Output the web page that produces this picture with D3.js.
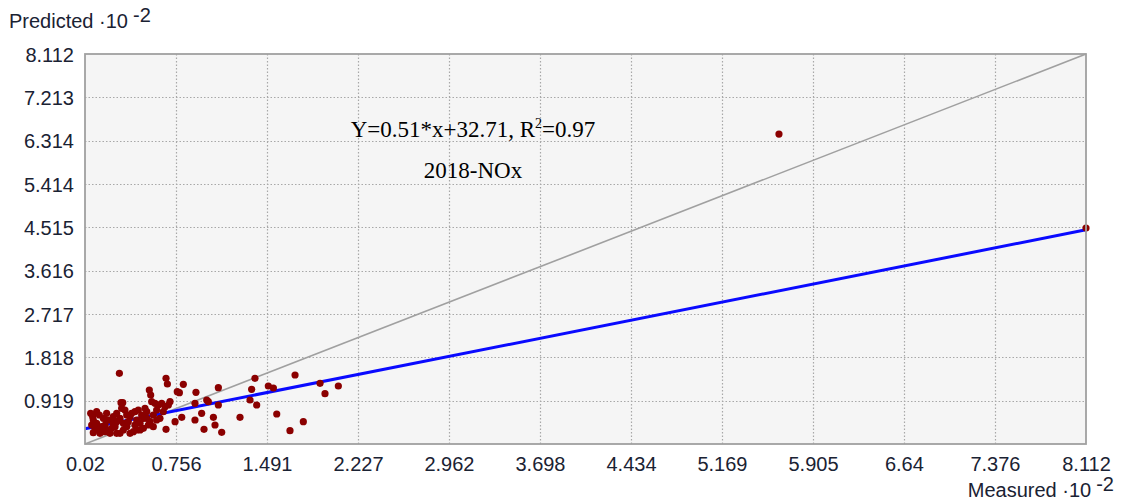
<!DOCTYPE html>
<html>
<head>
<meta charset="utf-8">
<script src="https://cdn.jsdelivr.net/npm/d3@7/dist/d3.min.js"></script>
<style>
  html, body { margin: 0; padding: 0; background: #ffffff; }
  svg { display: block; }
</style>
</head>
<body>
<svg id="chart" width="1121" height="502"></svg>
<script>
// Measured vs predicted NOx, 2018 (values shown in units of 10^-2)
const xTicks = [0.02, 0.756, 1.491, 2.227, 2.962, 3.698, 4.434, 5.169, 5.905, 6.64, 7.376, 8.112];
const yTicks = [0.919, 1.818, 2.717, 3.616, 4.515, 5.414, 6.314, 7.213, 8.112];
const axisMin = 0.02;
const axisMax = 8.112;

// regression reported in the annotation (intercept 32.71 -> 0.3271 in 10^-2 units)
const fitSlope = 0.51;
const fitIntercept = 0.3271;
const equationText = "Y=0.51*x+32.71, R";
const equationTail = "=0.97";
const seriesLabel = "2018-NOx";

const measured = [
  0.298, 0.675, 0.686, 0.815, 0.766, 0.783, 0.917, 1.098, 1.394, 1.718,
  1.920, 2.068, 1.960, 1.502, 1.543, 1.367, 1.354, 1.408, 1.570, 1.785,
  1.677, 1.273, 1.125, 1.071, 1.058, 1.098, 1.004, 1.017, 0.909, 0.963,
  0.909, 0.982, 0.802, 0.748, 0.675, 0.540, 0.551, 0.311, 0.325,
  0.066, 0.082, 0.114, 0.136, 0.168, 0.195, 0.222, 0.249, 0.074, 0.101,
  0.128, 0.155, 0.182, 0.209, 0.236, 0.263, 0.276, 0.303, 0.330, 0.357,
  0.343, 0.384, 0.397, 0.424, 0.451, 0.478, 0.505, 0.438, 0.465, 0.519,
  0.546, 0.572, 0.599, 0.626, 0.586, 0.613, 0.640, 0.667, 0.694, 0.707,
  0.559, 0.519, 0.384, 0.411, 0.438, 0.492, 0.532, 0.572, 0.141, 0.182,
  0.222, 0.276, 0.087, 0.303, 0.330, 0.370, 0.653, 0.599, 0.276, 0.465,
  0.087, 0.195, 0.249, 0.424, 0.492, 0.357, 0.316, 0.114,
  5.63, 8.112
];
const predicted = [
  1.486, 1.383, 1.265, 1.258, 1.106, 1.085, 1.092, 1.189, 1.383, 1.452,
  1.279, 1.223, 1.064, 1.223, 1.182, 1.154, 0.933, 0.829, 0.642, 0.483,
  0.297, 0.573, 0.262, 0.414, 0.573, 0.829, 0.933, 0.898, 0.864, 0.656,
  0.518, 0.324, 0.573, 0.483, 0.324, 1.140, 1.037, 0.878, 0.878,
  0.656, 0.587, 0.691, 0.622, 0.553, 0.656, 0.518, 0.449, 0.414, 0.345,
  0.310, 0.380, 0.414, 0.310, 0.345, 0.380, 0.483, 0.241, 0.310, 0.380,
  0.725, 0.587, 0.656, 0.691, 0.725, 0.622, 0.760, 0.518, 0.449, 0.553,
  0.483, 0.622, 0.518, 0.553, 0.864, 0.829, 0.864, 0.795, 0.829, 0.898,
  0.898, 0.691, 0.241, 0.276, 0.310, 0.345, 0.414, 0.380, 0.241, 0.276,
  0.241, 0.241, 0.518, 0.553, 0.449, 0.483, 0.691, 0.725, 0.656, 0.310,
  0.256, 0.518, 0.587, 0.414, 0.553, 0.622, 0.760, 0.449,
  6.45, 4.50
];

const points = measured.map((m, i) => ({ x: m, y: predicted[i] }));

const svg = d3.select("#chart");
const plot = { left: 85, top: 54, right: 1086, bottom: 444 };

const x = d3.scaleLinear().domain([axisMin, axisMax]).range([plot.left, plot.right]);
const y = d3.scaleLinear().domain([axisMin, axisMax]).range([plot.bottom, plot.top]);

const labelFont = "'Liberation Sans', Arial, sans-serif";
const textColor = "#1a2233";
const labelSize = 20;

// plot background
svg.append("rect")
  .attr("x", plot.left).attr("y", plot.top)
  .attr("width", plot.right - plot.left).attr("height", plot.bottom - plot.top)
  .attr("fill", "#f5f5f5");

// dotted grid
const grid = svg.append("g").attr("stroke", "#a8a8a8").attr("stroke-width", 1.2)
  .attr("stroke-dasharray", "1.5,2");
grid.selectAll("line.gx").data(xTicks.slice(1, -1)).join("line")
  .attr("x1", d => Math.round(x(d)) + 0.5).attr("x2", d => Math.round(x(d)) + 0.5)
  .attr("y1", plot.top).attr("y2", plot.bottom);
grid.selectAll("line.gy").data(yTicks.slice(0, -1)).join("line")
  .attr("y1", d => Math.round(y(d)) + 0.5).attr("y2", d => Math.round(y(d)) + 0.5)
  .attr("x1", plot.left).attr("x2", plot.right);

// 1:1 reference line
svg.append("line")
  .attr("x1", x(axisMin)).attr("y1", y(axisMin))
  .attr("x2", x(axisMax)).attr("y2", y(axisMax))
  .attr("stroke", "#a0a0a0").attr("stroke-width", 1.6);

// regression line
svg.append("line")
  .attr("x1", x(axisMin)).attr("y1", y(fitSlope * axisMin + fitIntercept))
  .attr("x2", x(axisMax)).attr("y2", y(fitSlope * axisMax + fitIntercept))
  .attr("stroke", "#0a0aff").attr("stroke-width", 3);

// sample points
svg.append("g").selectAll("circle").data(points).join("circle")
  .attr("cx", d => x(d.x)).attr("cy", d => y(d.y))
  .attr("r", 3.6).attr("fill", "#8b0000");

// frame
svg.append("rect")
  .attr("x", plot.left).attr("y", plot.top)
  .attr("width", plot.right - plot.left).attr("height", plot.bottom - plot.top)
  .attr("fill", "none").attr("stroke", "#a0a0a0").attr("stroke-width", 1.8);

// axes (tick labels only)
const xAxis = d3.axisBottom(x).tickValues(xTicks).tickFormat(d => String(d)).tickSize(0).tickPadding(0);
const gx = svg.append("g").attr("transform", `translate(0,${plot.bottom + 13})`).call(xAxis);
gx.select(".domain").remove();
gx.selectAll("text").attr("font-family", labelFont).attr("font-size", labelSize)
  .attr("fill", textColor).attr("dy", "0.71em");

const yAxis = d3.axisLeft(y).tickValues(yTicks).tickFormat(d => String(d)).tickSize(0).tickPadding(0);
const gy = svg.append("g").attr("transform", `translate(${plot.left - 11},0)`).call(yAxis);
gy.select(".domain").remove();
gy.selectAll("text").attr("font-family", labelFont).attr("font-size", labelSize)
  .attr("fill", textColor).attr("dy", "0.35em");

// axis titles
const yTitle = svg.append("text").attr("x", 9).attr("y", 28)
  .attr("font-family", labelFont).attr("font-size", labelSize).attr("fill", textColor);
yTitle.append("tspan").text("Predicted \u00b710");
yTitle.append("tspan").attr("dx", 5).attr("dy", -6).text("-2");

const xTitle = svg.append("text").attr("x", 1114).attr("y", 497).attr("text-anchor", "end")
  .attr("font-family", labelFont).attr("font-size", labelSize).attr("fill", textColor);
xTitle.append("tspan").text("Measured \u00b710");
xTitle.append("tspan").attr("dx", 5).attr("dy", -6).text("-2");

// annotation
const serif = "'Liberation Serif', 'Times New Roman', serif";
const eq = svg.append("text").attr("x", 473).attr("y", 137).attr("text-anchor", "middle")
  .attr("font-family", serif).attr("font-size", 23).attr("fill", "#000");
eq.append("tspan").text(equationText);
eq.append("tspan").attr("font-size", 14).attr("dy", -9).text("2");
eq.append("tspan").attr("dy", 9).text(equationTail);

svg.append("text").attr("x", 473).attr("y", 178).attr("text-anchor", "middle")
  .attr("font-family", serif).attr("font-size", 23).attr("fill", "#000")
  .text(seriesLabel);
</script>
</body>
</html>
